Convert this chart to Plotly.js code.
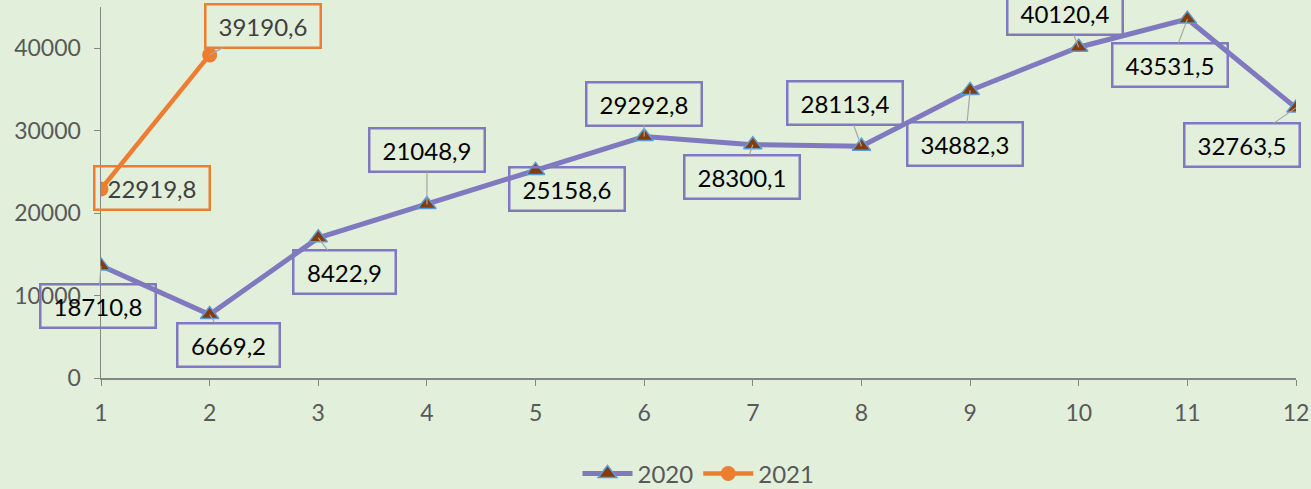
<!DOCTYPE html>
<html><head><meta charset="utf-8">
<script src="https://cdn.plot.ly/plotly-3.0.1.min.js"></script>
<style>html,body{margin:0;padding:0;background:#E2EFDA;}</style>
</head><body>
<div id="chart" style="width:1311px;height:489px;"></div>
<script>
const months = [1,2,3,4,5,6,7,8,9,10,11,12];
const values2020 = [13600, 7700, 17000, 21048.9, 25158.6, 29292.8, 28300.1, 28113.4, 34882.3, 40120.4, 43531.5, 32763.5];
const labels2020 = ["18710,8","6669,2","8422,9","21048,9","25158,6","29292,8","28300,1","28113,4","34882,3","40120,4","43531,5","32763,5"];
const months2021 = [1,2];
const values2021 = [22919.8, 39190.6];
const labels2021 = ["22919,8","39190,6"];
const yTicks = [0,10000,20000,30000,40000];

// label offsets (pixels) – style only
const off2020 = [[-3,40],[19,30],[26,34],[0,-54],[31,18],[0,-33],[-11,32],[-16,-43],[-5,54],[-14,-34],[-17,46],[-54,37]];
const off2021 = [[51,-1],[53,-29]];

const FONT = "Lato, 'Open Sans', sans-serif";
const purple = '#8079BF';
const orange = '#ED7D31';

const traces = [
  {x: months, y: values2020, name: '2020', type: 'scatter', mode: 'lines+markers',
   line: {color: purple, width: 5},
   marker: {symbol: 'triangle-up', size: 16, color: '#843C0C', line: {color: '#5B9BD5', width: 1.5}}},
  {x: months2021, y: values2021, name: '2021', type: 'scatter', mode: 'lines+markers',
   line: {color: orange, width: 4.5},
   marker: {symbol: 'circle', size: 15, color: orange}}
];

const annotations = [];
function addLabels(xs, ys, labels, offs, border, fcolor) {
  xs.forEach((x, i) => {
    annotations.push({
      x: x, y: ys[i], xref: 'x', yref: 'y', text: labels[i],
      showarrow: true, arrowhead: 0, arrowwidth: 1.2, arrowcolor: '#A6A6A6', standoff: 0,
      ax: offs[i][0], ay: offs[i][1],
      font: {family: FONT, size: 24, color: fcolor},
      bordercolor: border, borderwidth: 2.5, borderpad: 6,
      width: labels[i].length * 13 + 10
    });
  });
}
addLabels(months, values2020, labels2020, off2020, purple, '#000000');
addLabels(months2021, values2021, labels2021, off2021, orange, '#404040');

const layout = {
  width: 1311, height: 489,
  margin: {l: 101, r: 15, t: 7, b: 111, autoexpand: false},
  paper_bgcolor: '#E2EFDA', plot_bgcolor: '#E2EFDA',
  font: {family: FONT, size: 24, color: '#595959'},
  showlegend: true,
  legend: {orientation: 'h', x: 0.5, xanchor: 'center', yref: 'container', y: 0.031, yanchor: 'middle',
           font: {family: FONT, size: 24, color: '#595959'}, bgcolor: 'rgba(0,0,0,0)', itemwidth: 50},
  xaxis: {range: [1, 12], tickvals: months, ticktext: months.map(String), automargin: false,
          showgrid: false, zeroline: false, showline: true, linecolor: '#868686', linewidth: 1.5,
          ticks: 'outside', ticklen: 6, tickcolor: '#868686', ticklabelstandoff: 8,
          tickfont: {family: FONT, size: 23, color: '#595959'}},
  yaxis: {range: [0, 45000], tickvals: yTicks, ticktext: yTicks.map(String), automargin: false,
          showgrid: false, zeroline: false, showline: true, linecolor: '#868686', linewidth: 1.5,
          ticks: 'outside', ticklen: 6, tickcolor: '#868686', ticklabelstandoff: 8,
          tickfont: {family: FONT, size: 23, color: '#595959'}},
  annotations: annotations
};
Plotly.newPlot('chart', traces, layout, {displayModeBar: false, staticPlot: true});
</script>
</body></html>
